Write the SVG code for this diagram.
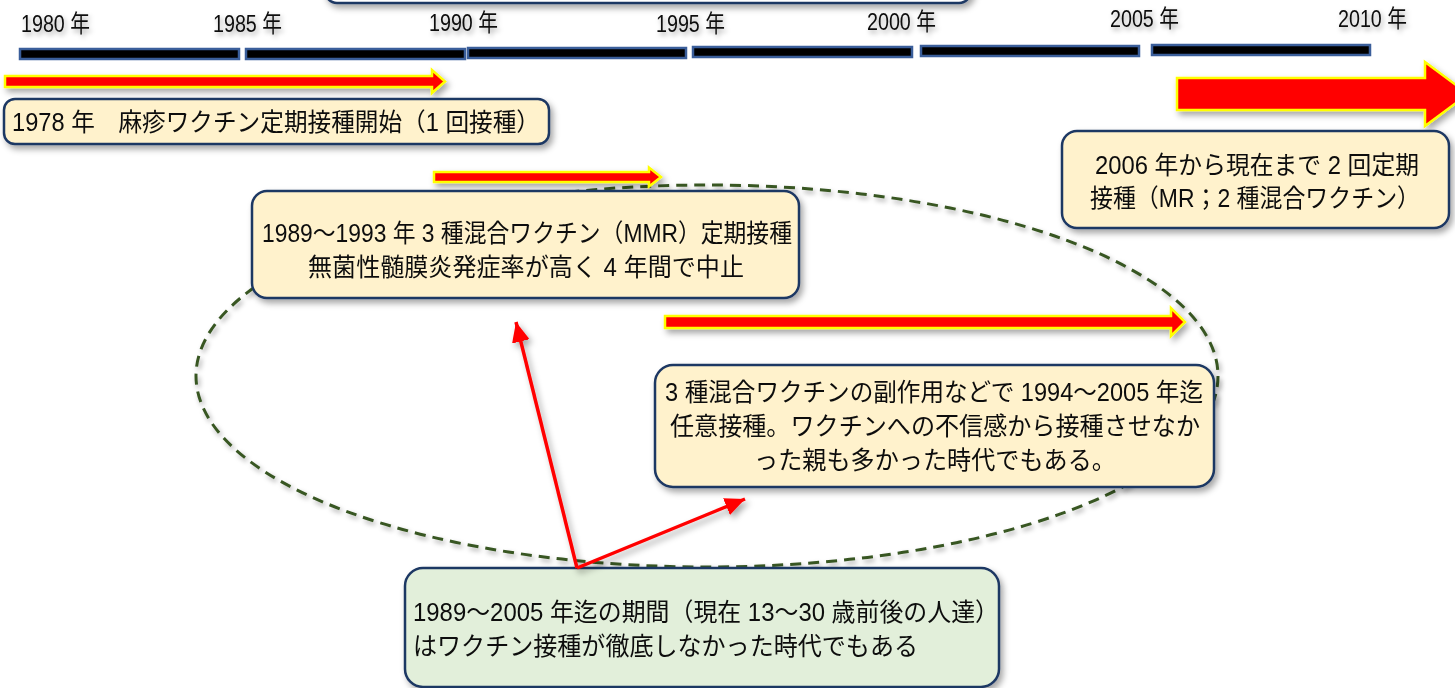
<svg xmlns="http://www.w3.org/2000/svg" width="1455" height="688" viewBox="0 0 1455 688">
<style>
  text { font-family: "Liberation Sans", "Noto Sans CJK JP", sans-serif; fill: #0d0d0d; }
  .yr { font-size: 24px; }
  .bt { font-size: 25px; }
  .box { fill: #FFF2CC; stroke: #1F3864; stroke-width: 2.5; }
  .gbox { fill: #E2EFDA; stroke: #1F3864; stroke-width: 2.5; }
  .bar { fill: #000; stroke: #3A5E9A; stroke-width: 2.5; }
  .blk { fill: #FF0000; stroke: #FFFF00; stroke-width: 2.5; stroke-linejoin: miter; }
  .conn { stroke: #FF0000; stroke-width: 3.5; fill: none; }
  .oval { fill: none; stroke: #385723; stroke-width: 3; stroke-dasharray: 11 7; }
</style>
<defs>
  <filter id="sh" x="-10%" y="-20%" width="130%" height="160%">
    <feDropShadow dx="3" dy="4" stdDeviation="3" flood-color="#000" flood-opacity="0.35"/>
  </filter>
  <filter id="tsh" x="-20%" y="-40%" width="150%" height="200%">
    <feDropShadow dx="2" dy="3" stdDeviation="2.5" flood-color="#000" flood-opacity="0.35"/>
  </filter>
  <marker id="ah" markerUnits="userSpaceOnUse" markerWidth="22" markerHeight="18" refX="20" refY="9" orient="auto">
    <path d="M0,0 L20,9 L0,18 Z" fill="#FF0000"/>
  </marker>
</defs>

<g id="timeline-labels" filter="url(#tsh)">
  <text class="yr" x="21" y="32" textLength="69" lengthAdjust="spacingAndGlyphs">1980 年</text>
  <text class="yr" x="213" y="32" textLength="69" lengthAdjust="spacingAndGlyphs">1985 年</text>
  <text class="yr" x="429" y="31" textLength="69" lengthAdjust="spacingAndGlyphs">1990 年</text>
  <text class="yr" x="656" y="32" textLength="69" lengthAdjust="spacingAndGlyphs">1995 年</text>
  <text class="yr" x="867" y="30" textLength="69" lengthAdjust="spacingAndGlyphs">2000 年</text>
  <text class="yr" x="1110" y="27" textLength="69" lengthAdjust="spacingAndGlyphs">2005 年</text>
  <text class="yr" x="1338" y="27" textLength="69" lengthAdjust="spacingAndGlyphs">2010 年</text>
</g>

<g id="timeline-bars">
  <rect class="bar" x="20" y="49" width="219" height="10"/>
  <rect class="bar" x="246" y="49" width="219" height="10"/>
  <rect class="bar" x="468" y="48" width="218" height="10"/>
  <rect class="bar" x="693" y="47" width="219" height="10"/>
  <rect class="bar" x="921" y="46" width="218" height="10"/>
  <rect class="bar" x="1152" y="45" width="218" height="10"/>
</g>

<g id="node-top-cut" filter="url(#sh)">
  <rect class="box" x="325" y="-60" width="646" height="63" rx="12" style="fill:#FFFFFF"/>
</g>

<g id="period-oval" filter="url(#tsh)">
  <ellipse class="oval" cx="707" cy="376" rx="511" ry="191"/>
</g>

<g id="period-arrows" filter="url(#sh)">
  <path class="blk" d="M5,76 L432,76 L432,70 L445,81.5 L432,93 L432,87 L5,87 Z"/>
  <path class="blk" d="M434,172 L649,172 L649,167.5 L661,177 L649,186.5 L649,182 L434,182 Z"/>
  <path class="blk" d="M665,316 L1171,316 L1171,308 L1185,322 L1171,336 L1171,328 L665,328 Z"/>
  <path class="blk" d="M1177,78 L1425,78 L1425,62 L1468,94 L1425,126 L1425,110 L1177,110 Z"/>
</g>

<g id="node-1978" filter="url(#sh)">
  <rect class="box" x="4" y="99" width="545" height="45" rx="11"/>
  <text class="bt" x="12" y="131" textLength="528" lengthAdjust="spacingAndGlyphs">1978 年　麻疹ワクチン定期接種開始（1 回接種）</text>
</g>

<g id="node-2006" filter="url(#sh)">
  <rect class="box" x="1062" y="131" width="387" height="97" rx="15"/>
  <text class="bt" x="1095" y="174" textLength="324" lengthAdjust="spacingAndGlyphs">2006 年から現在まで 2 回定期</text>
  <text class="bt" x="1090" y="207" textLength="330" lengthAdjust="spacingAndGlyphs">接種（MR；2 種混合ワクチン）</text>
</g>

<g id="node-mmr" filter="url(#sh)">
  <rect class="box" x="252" y="191" width="547" height="107" rx="15"/>
  <text class="bt" x="262" y="242" textLength="530" lengthAdjust="spacingAndGlyphs">1989～1993 年 3 種混合ワクチン（MMR）定期接種</text>
  <text class="bt" x="308" y="276" textLength="436" lengthAdjust="spacingAndGlyphs">無菌性髄膜炎発症率が高く 4 年間で中止</text>
</g>

<g id="node-optional" filter="url(#sh)">
  <rect class="box" x="655" y="365" width="559" height="122" rx="18"/>
  <text class="bt" x="665" y="401" textLength="538" lengthAdjust="spacingAndGlyphs">3 種混合ワクチンの副作用などで 1994～2005 年迄</text>
  <text class="bt" x="670" y="435" textLength="530" lengthAdjust="spacingAndGlyphs">任意接種。ワクチンへの不信感から接種させなか</text>
  <text class="bt" x="754" y="469" textLength="362" lengthAdjust="spacingAndGlyphs">った親も多かった時代でもある。</text>
</g>

<g id="node-summary" filter="url(#sh)">
  <rect class="gbox" x="405" y="568" width="594" height="119" rx="18"/>
  <text class="bt" x="413" y="621" textLength="586" lengthAdjust="spacingAndGlyphs">1989～2005 年迄の期間（現在 13～30 歳前後の人達）</text>
  <text class="bt" x="413" y="655" textLength="505" lengthAdjust="spacingAndGlyphs">はワクチン接種が徹底しなかった時代でもある</text>
</g>

<g id="connectors" filter="url(#sh)">
  <line class="conn" x1="577" y1="568" x2="516" y2="322" marker-end="url(#ah)"/>
  <line class="conn" x1="577" y1="568" x2="745" y2="499" marker-end="url(#ah)"/>
</g>
</svg>
